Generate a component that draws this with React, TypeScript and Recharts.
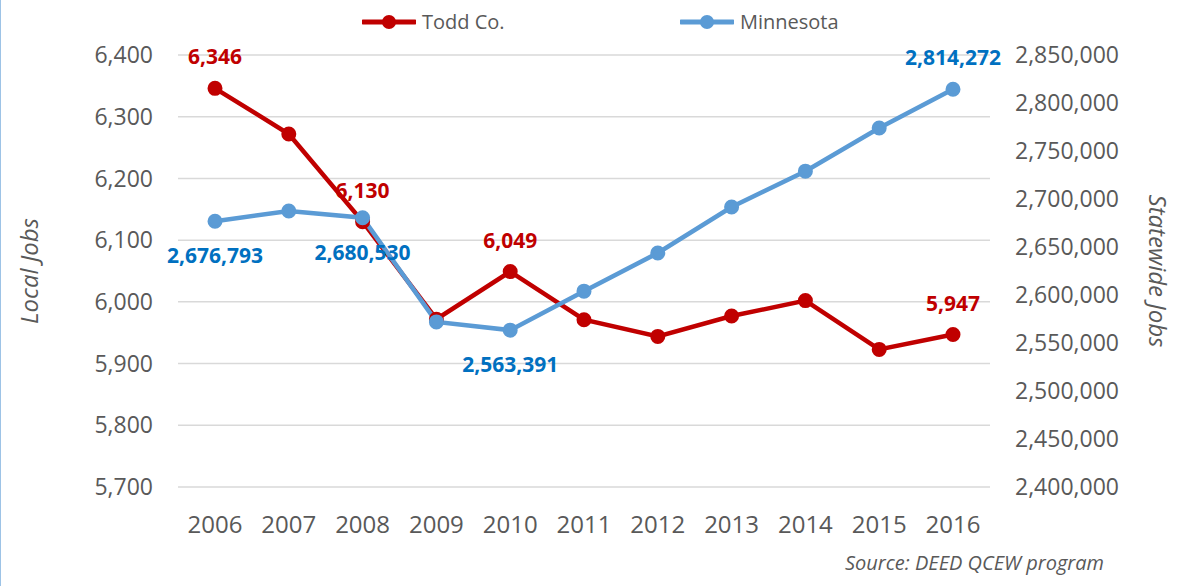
import React from "react";
import {
  LineChart,
  Line,
  XAxis,
  YAxis,
  CartesianGrid,
  Legend,
  LabelList,
} from "recharts";

const YEARS = ["2006", "2007", "2008", "2009", "2010", "2011", "2012", "2013", "2014", "2015", "2016"];
const TODD_JOBS = [6346, 6272, 6130, 5972, 6049, 5971, 5944, 5977, 6002, 5923, 5947];
const MN_JOBS = [2676793, 2687500, 2680530, 2572000, 2563391, 2604000, 2643800, 2691700, 2729000, 2774000, 2814272];
const LOCAL_TICKS = [5700, 5800, 5900, 6000, 6100, 6200, 6300, 6400];
const STATE_TICKS = [2400000, 2450000, 2500000, 2550000, 2600000, 2650000, 2700000, 2750000, 2800000, 2850000];
const TODD_LABELED = [0, 2, 4, 10];
const MN_LABELED = [0, 2, 4, 10];
const MN_LABEL_ABOVE = [10];

const FONT = "'Open Sans', sans-serif";
const GRAY = "#595959";
const RED = "#C00000";
const BLUE = "#5B9BD5";
const BLUE_TEXT = "#0070C0";

const data = YEARS.map((year, i) => ({ year, todd: TODD_JOBS[i], mn: MN_JOBS[i] }));

const fmt = (v: number) => v.toLocaleString("en-US");

const makeLabel = (shown: number[], above: number[] | "all", color: string) => (props: any) => {
  const { x, y, value, index } = props;
  if (!shown.includes(index)) return null;
  const up = above === "all" || above.includes(index);
  return (
    <text
      x={x}
      y={up ? y - 32 : y + 34}
      fill={color}
      fontFamily={FONT}
      fontSize={21}
      fontWeight={700}
      textAnchor="middle"
      dominantBaseline="central"
    >
      {fmt(value)}
    </text>
  );
};

const axisTitle = (text: string, cx: number, angle: number) => (props: any) => {
  const { viewBox } = props;
  const cy = viewBox.y + viewBox.height / 2;
  return (
    <text
      x={cx}
      y={cy}
      transform={`rotate(${angle} ${cx} ${cy})`}
      fill={GRAY}
      fontFamily={FONT}
      fontSize={24}
      fontStyle="italic"
      textAnchor="middle"
      dominantBaseline="central"
    >
      {text}
    </text>
  );
};

const LEGEND_ITEMS = [
  { name: "Todd Co.", color: RED, left: 362 },
  { name: "Minnesota", color: BLUE, left: 680 },
];

const renderLegend = () => (
  <div style={{ position: "relative", width: 1177, height: 40 }}>
    {LEGEND_ITEMS.map((item) => (
      <div
        key={item.name}
        style={{
          position: "absolute",
          left: item.left,
          top: 8,
          display: "flex",
          alignItems: "center",
          fontFamily: FONT,
          fontSize: 20,
          color: GRAY,
          lineHeight: "28px",
        }}
      >
        <svg width={54} height={16} style={{ marginRight: 6 }}>
          <line x1={1} y1={8} x2={53} y2={8} stroke={item.color} strokeWidth={5} strokeLinecap="round" />
          <circle cx={27} cy={8} r={7} fill={item.color} />
        </svg>
        {item.name}
      </div>
    ))}
  </div>
);

export default function App() {
  return (
    <div
      style={{
        position: "absolute",
        left: 0,
        top: 0,
        width: 1177,
        height: 586,
        background: "#fff",
        boxShadow: "inset 1px 0 0 #9DC3E6",
      }}
    >
      <LineChart width={1177} height={586} data={data} margin={{ top: 15, right: 0, bottom: 39, left: 0 }}>
        <CartesianGrid yAxisId="left" vertical={false} stroke="#D9D9D9" strokeWidth={1.5} />
        <XAxis
          dataKey="year"
          height={60}
          padding={{ left: 37, right: 37 }}
          axisLine={false}
          tickLine={false}
          tickMargin={23}
          tick={{ fill: GRAY, fontSize: 24, fontFamily: FONT }}
        />
        <YAxis
          yAxisId="left"
          width={178}
          domain={[5700, 6400]}
          ticks={LOCAL_TICKS}
          tickFormatter={fmt}
          axisLine={false}
          tickLine={false}
          tickMargin={19}
          tick={{ fill: GRAY, fontSize: 23, fontFamily: FONT }}
          label={{ content: axisTitle("Local Jobs", 28, -90) }}
        />
        <YAxis
          yAxisId="right"
          orientation="right"
          width={187}
          domain={[2400000, 2850000]}
          ticks={STATE_TICKS}
          tickFormatter={fmt}
          axisLine={false}
          tickLine={false}
          tickMargin={19}
          tick={{ fill: GRAY, fontSize: 23, fontFamily: FONT, textAnchor: "start" }}
          label={{ content: axisTitle("Statewide Jobs", 1158, 90) }}
        />
        <Legend
          verticalAlign="top"
          content={renderLegend}
          wrapperStyle={{ top: 0, left: 0, width: 1177, height: 40 }}
        />
        <Line
          yAxisId="left"
          dataKey="todd"
          name="Todd Co."
          stroke={RED}
          strokeWidth={4.5}
          dot={{ r: 6, fill: RED, stroke: RED, strokeWidth: 3 }}
          activeDot={false}
          isAnimationActive={false}
        >
          <LabelList dataKey="todd" content={makeLabel(TODD_LABELED, "all", RED)} />
        </Line>
        <Line
          yAxisId="right"
          dataKey="mn"
          name="Minnesota"
          stroke={BLUE}
          strokeWidth={4.5}
          dot={{ r: 6, fill: BLUE, stroke: BLUE, strokeWidth: 3 }}
          activeDot={false}
          isAnimationActive={false}
        >
          <LabelList dataKey="mn" content={makeLabel(MN_LABELED, MN_LABEL_ABOVE, BLUE_TEXT)} />
        </Line>
      </LineChart>
      <div
        style={{
          position: "absolute",
          right: 73,
          top: 549,
          fontFamily: FONT,
          fontSize: 20,
          fontStyle: "italic",
          color: GRAY,
        }}
      >
        Source: DEED QCEW program
      </div>
    </div>
  );
}
